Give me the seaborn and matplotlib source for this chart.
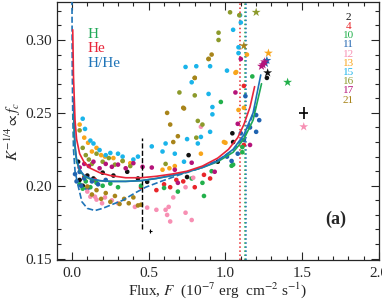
import numpy as np
import pandas as pd
import matplotlib
matplotlib.use("Agg")
import matplotlib.pyplot as plt
import seaborn as sns

# =========================
# DATA
# =========================
src_colors = {
    "2": "#111111", "4": "#e8262a", "10": "#22b04b", "11": "#1f63b0",
    "12": "#f78fb3", "13": "#f8a51b", "15": "#1ab4ea", "16": "#8c9a2b",
    "17": "#b5137a", "21": "#a8841a",
}

f_2 = [0.04, 0.05, 0.07, 0.10, 0.14, 0.20, 0.27, 0.36, 0.43, 0.49, 0.75, 0.76, 0.95, 1.05, 1.045, 1.27]
k_2 = [0.2165, 0.204, 0.200, 0.207, 0.205, 0.209, 0.207, 0.2096, 0.205, 0.2027, 0.206, 0.221, 0.2165, 0.230, 0.236, 0.274]

f_4 = [0.08, 0.15, 0.45, 0.55, 0.60, 0.64, 0.68, 0.725, 0.80, 0.86, 0.90, 1.12, 1.12]
k_4 = [0.206, 0.204, 0.199, 0.197, 0.201, 0.199, 0.204, 0.203, 0.199, 0.2075, 0.205, 0.228, 0.2685]

f_10 = [0.05, 0.07, 0.09, 0.12, 0.16, 0.20, 0.25, 0.30, 0.45, 0.60, 0.69, 0.78, 0.85, 0.86, 0.91, 0.97, 1.04, 1.05, 1.11, 1.11, 1.175]
k_10 = [0.201, 0.198, 0.203, 0.199, 0.202, 0.200, 0.2015, 0.199, 0.200, 0.1985, 0.196, 0.205, 0.202, 0.193, 0.210, 0.2575, 0.2137, 0.2145, 0.223, 0.2265, 0.275]

f_11 = [0.02, 0.03, 0.05, 0.06, 0.08, 0.10, 0.13, 0.17, 0.22, 1.01, 1.04, 1.08, 1.10, 1.12, 1.13, 1.16, 1.20, 1.20, 1.22]
k_11 = [0.208, 0.203, 0.2095, 0.200, 0.205, 0.198, 0.203, 0.201, 0.204, 0.220, 0.217, 0.222, 0.236, 0.2315, 0.2615, 0.240, 0.237, 0.2485, 0.245]

f_12 = [0.10, 0.12, 0.15, 0.16, 0.196, 0.215, 0.26, 0.30, 0.41, 0.49, 0.55, 0.61, 0.62, 0.63, 0.64, 0.66, 0.74, 0.74, 0.78, 0.79, 0.84]
k_12 = [0.196, 0.1925, 0.1925, 0.1905, 0.188, 0.192, 0.190, 0.188, 0.1855, 0.185, 0.1835, 0.1835, 0.180, 0.1855, 0.1755, 0.192, 0.1815, 0.199, 0.1765, 0.2055, 0.2405]

f_13 = [0.05, 0.08, 0.105, 0.13, 0.16, 0.19, 0.215, 0.27, 0.33, 0.38, 0.59, 0.635, 0.67, 0.84, 0.99, 1.00, 1.065, 1.07, 1.085, 1.12, 1.14]
k_13 = [0.242, 0.233, 0.2295, 0.2235, 0.226, 0.221, 0.220, 0.219, 0.217, 0.2155, 0.211, 0.212, 0.2135, 0.222, 0.230, 0.2295, 0.2775, 0.278, 0.252, 0.2535, 0.290]

f_15 = [0.07, 0.085, 0.12, 0.14, 0.18, 0.22, 0.25, 0.30, 0.33, 0.40, 0.43, 0.52, 0.59, 0.61, 0.67, 0.73, 0.74, 0.75, 0.78, 0.81, 0.82, 0.84, 0.90,
        0.90, 0.915, 0.915, 0.89, 1.01, 1.05, 1.085, 1.085, 1.10, 1.095]
k_15 = [0.246, 0.239, 0.231, 0.229, 0.2245, 0.221, 0.2225, 0.222, 0.220, 0.218, 0.220, 0.227, 0.2235, 0.229, 0.222, 0.2165, 0.2815, 0.232, 0.271, 0.282, 0.229, 0.2335, 0.282,
        0.237, 0.254, 0.249, 0.263, 0.279, 0.307, 0.295, 0.291, 0.312, 0.317]

f_16 = [0.05, 0.07, 0.09, 0.11, 0.13, 0.16, 0.20, 0.24, 0.28, 0.33, 0.38, 0.61, 0.70, 0.80, 0.80, 0.81, 0.82, 0.85, 0.89, 0.955, 0.955, 1.03, 1.09]
k_16 = [0.238, 0.226, 0.221, 0.218, 0.215, 0.222, 0.2165, 0.219, 0.2145, 0.217, 0.2135, 0.215, 0.264, 0.274, 0.262, 0.233, 0.2445, 0.242, 0.287, 0.305, 0.300, 0.319, 0.317]

f_17 = [0.05, 0.08, 0.11, 0.14, 0.18, 0.22, 0.26, 0.30, 0.35, 0.40, 0.46, 0.52, 0.67, 0.69, 0.78, 0.93, 1.065, 1.08, 1.10, 1.16]
k_17 = [0.2125, 0.215, 0.2135, 0.2165, 0.212, 0.215, 0.213, 0.2145, 0.212, 0.2155, 0.213, 0.2125, 0.211, 0.202, 0.2158, 0.2096, 0.264, 0.2425, 0.287, 0.228]

f_21 = [0.10, 0.13, 0.16, 0.19, 0.22, 0.25, 0.28, 0.31, 0.34, 0.37, 0.40, 0.43, 0.45, 0.62, 0.64, 0.66, 0.69, 0.725, 0.73, 0.80, 0.89, 0.91]
k_21 = [0.1995, 0.194, 0.197, 0.191, 0.195, 0.189, 0.193, 0.1875, 0.191, 0.188, 0.192, 0.1865, 0.187, 0.250, 0.242, 0.230, 0.234, 0.2535, 0.253, 0.274, 0.287, 0.290]

# stars (last observations)
star_src = ["12", "10", "13", "16", "2", "11", "11", "17", "17", "17", "21"]
star_f = [1.51, 1.405, 1.28, 1.20, 1.275, 1.26, 1.27, 1.235, 1.245, 1.255, 1.12]
star_k = [0.2405, 0.271, 0.291, 0.319, 0.2775, 0.284, 0.286, 0.282, 0.283, 0.285, 0.296]

# fit curves
he_f = [0.005, 0.01, 0.02, 0.03, 0.05, 0.08, 0.12, 0.18, 0.25, 0.35, 0.45, 0.55, 0.65, 0.75, 0.85, 0.95, 1.02, 1.08, 1.12, 1.16, 1.19]
he_k = [0.307, 0.275, 0.245, 0.232, 0.222, 0.216, 0.212, 0.209, 0.207, 0.2055, 0.2055, 0.2065, 0.208, 0.210, 0.2135, 0.219, 0.225, 0.233, 0.242, 0.254, 0.268]
h_f = [0.01, 0.015, 0.02, 0.03, 0.05, 0.08, 0.12, 0.18, 0.25, 0.35, 0.45, 0.55, 0.65, 0.75, 0.85, 0.95, 1.05, 1.12, 1.18, 1.235]
h_k = [0.25, 0.235, 0.226, 0.217, 0.2105, 0.2065, 0.2045, 0.2035, 0.203, 0.203, 0.2035, 0.205, 0.207, 0.2095, 0.2125, 0.2165, 0.223, 0.232, 0.245, 0.270]
hhe_f = [0.01, 0.015, 0.02, 0.03, 0.05, 0.08, 0.12, 0.18, 0.25, 0.35, 0.45, 0.55, 0.65, 0.75, 0.85, 0.95, 1.05, 1.12, 1.18, 1.23]
hhe_k = [0.26, 0.24, 0.228, 0.218, 0.211, 0.207, 0.205, 0.2035, 0.203, 0.203, 0.2035, 0.205, 0.207, 0.2095, 0.2125, 0.217, 0.225, 0.235, 0.250, 0.276]
dash_f = [0.0, 0.002, 0.005, 0.01, 0.02, 0.04, 0.065, 0.10, 0.15, 0.20, 0.27, 0.33, 0.41, 0.48, 0.58, 0.70, 0.82, 0.95, 1.05, 1.13, 1.20]
dash_k = [0.33, 0.28, 0.25, 0.225, 0.21, 0.2, 0.189, 0.1845, 0.183, 0.1845, 0.1875, 0.190, 0.195, 0.199, 0.203, 0.2075, 0.2115, 0.2175, 0.2245, 0.235, 0.255]

vline_x = [1.095, 1.125, 1.135]
vline_c = ["#e8262a", "#22b04b", "#1f74b8"]

# =========================
# TABLES
# =========================
pts = []
for name, fl, kk in [("2", f_2, k_2), ("4", f_4, k_4), ("10", f_10, k_10), ("11", f_11, k_11),
                     ("12", f_12, k_12), ("13", f_13, k_13), ("15", f_15, k_15), ("16", f_16, k_16),
                     ("17", f_17, k_17), ("21", f_21, k_21)]:
    pts.append(pd.DataFrame({"flux": fl, "k": kk, "src": name}))
pts = pd.concat(pts, ignore_index=True)
stars = pd.DataFrame({"flux": star_f, "k": star_k, "src": star_src})

# =========================
# PLOT
# =========================
sns.set_style("ticks")
plt.rcParams["font.family"] = ["Liberation Serif", "DejaVu Serif"]
plt.rcParams["mathtext.fontset"] = "stix"

fig = plt.figure(figsize=(3.82, 3.0), dpi=100)
ax = fig.add_axes([0.149, 0.133, 0.843, 0.860])

sns.scatterplot(data=pts, x="flux", y="k", hue="src", palette=src_colors,
                s=11, linewidth=0, legend=False, ax=ax, zorder=2)
sns.scatterplot(data=stars, x="flux", y="k", hue="src", palette=src_colors,
                marker="*", s=45, linewidth=0, legend=False, ax=ax, zorder=3)

ax.plot(dash_f, dash_k, "--", color="#1f74b8", lw=1.2, zorder=4)
ax.plot(h_f, h_k, "-", color="#1fa857", lw=1.2, zorder=4)
ax.plot(hhe_f, hhe_k, "-", color="#1f74b8", lw=1.2, zorder=4)
ax.plot(he_f, he_k, "-", color="#e8253a", lw=1.2, zorder=5)

for xv, c in zip(vline_x, vline_c):
    ax.axvline(xv, color=c, ls=":", lw=1.1, zorder=1)
ax.plot([0.455, 0.455], [0.17, 0.233], "--", color="k", lw=1.0)

ax.errorbar([1.51], [0.25], xerr=[0.03], yerr=[0.004], fmt="none", ecolor="k", elinewidth=1.2, capsize=0)
ax.errorbar([0.51], [0.169], xerr=[0.01], yerr=[0.0015], fmt="none", ecolor="k", elinewidth=0.8, capsize=0)

# labels
ax.text(0.10, 0.3015, "H", color="#1fa857", fontsize=11)
ax.text(0.10, 0.2915, "He", color="#e8253a", fontsize=11)
ax.text(0.10, 0.2815, "H/He", color="#1f74b8", fontsize=11)
for i, name in enumerate(src_colors):
    ax.text(1.80, 0.3155 - i * 0.0063, name, color=src_colors[name], fontsize=8, ha="center", va="center")
ax.text(1.72, 0.177, "(a)", fontsize=13, fontweight="bold", ha="center", va="center")

ax.set_xlim(-0.098, 2.0)
ax.set_ylim(0.149, 0.326)
ax.set_xticks([0.0, 0.5, 1.0, 1.5, 2.0])
ax.set_xticks(np.arange(0.0, 2.01, 0.1), minor=True)
ax.set_yticks([0.15, 0.20, 0.25, 0.30])
ax.set_yticks(np.arange(0.15, 0.326, 0.01), minor=True)
ax.set_xticklabels(["0.0", "0.5", "1.0", "1.5", "2.0"])
ax.set_yticklabels(["0.15", "0.20", "0.25", "0.30"])
ax.tick_params(which="both", direction="in", top=True, right=True, labelsize=11, width=0.8)
ax.tick_params(which="major", length=6)
ax.tick_params(which="minor", length=3)
ax.tick_params(axis="x", pad=5)
for sp in ax.spines.values():
    sp.set_linewidth(0.9)

ax.set_xlabel(r"Flux, $F$  (10$^{-7}$ erg  cm$^{-2}$ s$^{-1}$)", fontsize=11, labelpad=0)
ax.set_ylabel(r"$K^{-1/4} \propto f_c$", fontsize=11, labelpad=2)

fig.savefig("out.png", dpi=100)
